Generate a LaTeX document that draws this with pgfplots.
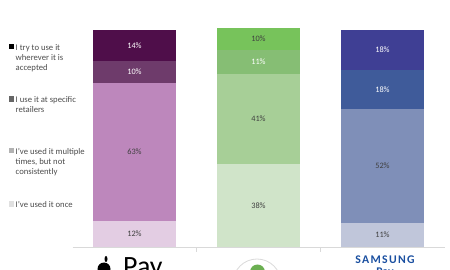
\documentclass[border=0pt]{standalone}
\usepackage{pgfplots}
\pgfplotsset{compat=1.18}
\usepackage{fontspec}
\setmainfont{Carlito}
\definecolor{ap1}{HTML}{E3CDE3}
\definecolor{ap2}{HTML}{BD87BC}
\definecolor{ap3}{HTML}{6E3B6B}
\definecolor{ap4}{HTML}{4F0E4A}
\definecolor{an1}{HTML}{D0E4C9}
\definecolor{an2}{HTML}{A7CF97}
\definecolor{an3}{HTML}{86BE74}
\definecolor{an4}{HTML}{77C35B}
\definecolor{sa1}{HTML}{C0C6DA}
\definecolor{sa2}{HTML}{7F8FB8}
\definecolor{sa3}{HTML}{3F5B9A}
\definecolor{sa4}{HTML}{3F3F94}
\definecolor{lab}{HTML}{404040}
\definecolor{samblue}{HTML}{1A4FA0}
\tikzset{lbl/.style={font=\fontsize{8.3}{9}\selectfont}}
\begin{document}
\begin{tikzpicture}
\useasboundingbox (0,0) rectangle (450bp,270bp);
\begin{axis}[
  at={(72.5bp,23bp)}, anchor=south west,
  scale only axis, width=372bp, height=247bp,
  xmin=-0.5, xmax=2.5, ymin=0, ymax=112.8,
  axis x line=bottom, axis y line=none,
  x axis line style={draw=black!15,-},
  xtick={0.5,1.5}, xticklabels={},
  major tick length=5bp, tick align=outside,
  x tick style={draw=black!15},
  ytick=\empty,
  ybar stacked, bar width=83bp,
  clip=false,
]
\addplot[fill=ap1,draw=none] coordinates {(0,12) (1,0) (2,0)};
\addplot[fill=ap2,draw=none] coordinates {(0,63) (1,0) (2,0)};
\addplot[fill=ap3,draw=none] coordinates {(0,10) (1,0) (2,0)};
\addplot[fill=ap4,draw=none] coordinates {(0,14) (1,0) (2,0)};
\addplot[fill=an1,draw=none] coordinates {(0,0) (1,38) (2,0)};
\addplot[fill=an2,draw=none] coordinates {(0,0) (1,41) (2,0)};
\addplot[fill=an3,draw=none] coordinates {(0,0) (1,11) (2,0)};
\addplot[fill=an4,draw=none] coordinates {(0,0) (1,10) (2,0)};
\addplot[fill=sa1,draw=none] coordinates {(0,0) (1,0) (2,11)};
\addplot[fill=sa2,draw=none] coordinates {(0,0) (1,0) (2,52)};
\addplot[fill=sa3,draw=none] coordinates {(0,0) (1,0) (2,18)};
\addplot[fill=sa4,draw=none] coordinates {(0,0) (1,0) (2,18)};
\coordinate (a1) at (axis cs:0,6);
\coordinate (a2) at (axis cs:0,43.5);
\coordinate (a3) at (axis cs:0,80);
\coordinate (a4) at (axis cs:0,92);
\coordinate (b1) at (axis cs:1,19);
\coordinate (b2) at (axis cs:1,58.5);
\coordinate (b3) at (axis cs:1,84.5);
\coordinate (b4) at (axis cs:1,95);
\coordinate (c1) at (axis cs:2,5.5);
\coordinate (c2) at (axis cs:2,37);
\coordinate (c3) at (axis cs:2,72);
\coordinate (c4) at (axis cs:2,90);
\end{axis}
\node[lbl,text=lab] at (a1) {12\%};
\node[lbl,text=lab] at (a2) {63\%};
\node[lbl,text=white] at (a3) {10\%};
\node[lbl,text=white] at (a4) {14\%};
\node[lbl,text=lab] at (b1) {38\%};
\node[lbl,text=lab] at (b2) {41\%};
\node[lbl,text=white] at (b3) {11\%};
\node[lbl,text=lab] at (b4) {10\%};
\node[lbl,text=lab] at (c1) {11\%};
\node[lbl,text=lab] at (c2) {52\%};
\node[lbl,text=white] at (c3) {18\%};
\node[lbl,text=white] at (c4) {18\%};
\tikzset{leg/.style={font=\fontsize{8.7}{10.3}\selectfont, text=black!70, align=left, anchor=base west, inner sep=0pt}}
\fill[black] (8.5bp,220.5bp) rectangle +(5.5bp,5.5bp);
\node[leg] at (15.5bp,199.4bp) {I try to use it\\wherever it is\\accepted};
\fill[black!60] (8.5bp,168bp) rectangle +(5.5bp,5.5bp);
\node[leg] at (15.5bp,157.2bp) {I use it at specific\\retailers};
\fill[black!30] (8.5bp,116.5bp) rectangle +(5.5bp,5.5bp);
\node[leg] at (15.5bp,95.4bp) {I've used it multiple\\times, but not\\consistently};
\fill[black!12] (8.5bp,63bp) rectangle +(5.5bp,5.5bp);
\node[leg] at (15.5bp,62.5bp) {I've used it once};
\fill[black] (104bp,1bp) circle (6.5bp);
\fill[black] (106bp,11bp) ellipse (1.5bp and 3bp);
\node[anchor=base west, inner sep=0pt, font=\fontsize{28}{28}\selectfont] at (123bp,-5bp) {Pay};
\draw[black!15, line width=0.8bp] (257bp,-13bp) circle (24bp);
\fill[an4!90!black] (250bp,-2bp) arc (180:0:7.5bp) -- cycle;
\fill[an4!90!black] (250bp,-3bp) rectangle (265bp,-10bp);
\node[anchor=base, inner sep=0pt, font=\fontsize{11.8}{12}\selectfont\bfseries, text=samblue] at (385bp,6.7bp) {S\kern1.3bp A\kern1.3bp M\kern1.3bp S\kern1.3bp U\kern1.3bp N\kern1.3bp G};
\node[anchor=base, inner sep=0pt, font=\fontsize{11.8}{12}\selectfont\bfseries, text=samblue] at (385bp,-5bp) {Pay};
\end{tikzpicture}
\end{document}
